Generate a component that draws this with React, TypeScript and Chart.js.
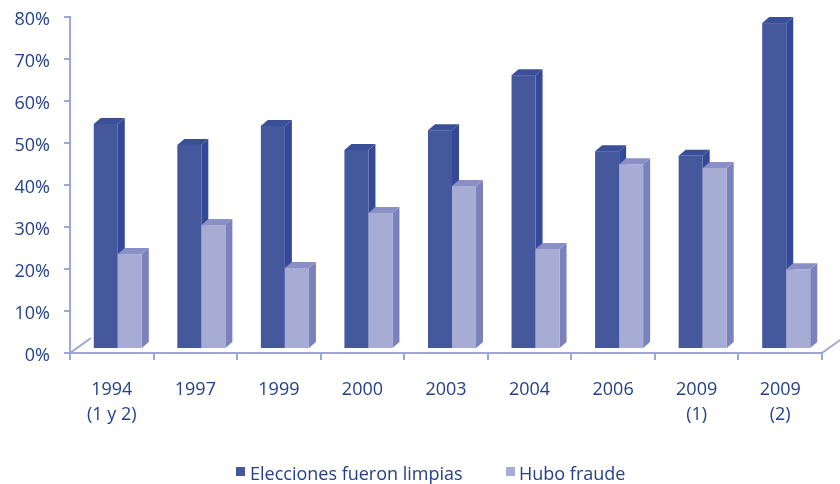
import React, { useEffect, useRef } from 'react';
import { Chart, registerables } from 'chart.js';

Chart.register(...registerables);

const categories: string[][] = [
  ['1994', '(1 y 2)'],
  ['1997'],
  ['1999'],
  ['2000'],
  ['2003'],
  ['2004'],
  ['2006'],
  ['2009', '(1)'],
  ['2009', '(2)'],
];
const seriesNames = ['Elecciones fueron limpias', 'Hubo fraude'];
const limpias = [53.6, 48.6, 53.1, 47.4, 52.1, 65.2, 47.1, 46.0, 77.6];
const fraude = [22.6, 29.5, 19.3, 32.4, 38.8, 23.8, 44.0, 43.1, 19.0];
const yTickValues = [0, 10, 20, 30, 40, 50, 60, 70, 80];

const FONT = "'Open Sans', 'Noto Sans', sans-serif";
const TEXT = '#24408C';
const AXIS = '#A0A6D4';
const FRONT = ['#45589C', '#A7ACD4'];
const SIDE = ['#34489A', '#7B81BC'];
const TOP = ['#3B4F99', '#8A90C7'];

const SHIFT_X = 6;
const SHIFT_Y = -4;
const DX = 7;
const DY = -6;

const bars3d = {
  id: 'bars3d',
  beforeDatasetsDraw(chart: any) {
    const ctx = chart.ctx;
    const { left, right, bottom } = chart.chartArea;
    ctx.save();
    ctx.strokeStyle = AXIS;
    ctx.lineWidth = 2;
    ctx.beginPath();
    ctx.moveTo(left, bottom);
    ctx.lineTo(left + 21, bottom - 15);
    ctx.moveTo(right, bottom);
    ctx.lineTo(right + 21, bottom - 15);
    ctx.stroke();

    const n = chart.data.labels.length;
    for (let i = 0; i < n; i++) {
      chart.data.datasets.forEach((_ds: any, di: number) => {
        const el = chart.getDatasetMeta(di).data[i];
        if (!el) return;
        const { x, y, base, width } = el.getProps(['x', 'y', 'base', 'width'], true);
        const x0 = x - width / 2 + SHIFT_X;
        const x1 = x + width / 2 + SHIFT_X;
        const yt = y + SHIFT_Y;
        const yb = base + SHIFT_Y;
        ctx.fillStyle = SIDE[di];
        ctx.beginPath();
        ctx.moveTo(x1, yt);
        ctx.lineTo(x1 + DX, yt + DY);
        ctx.lineTo(x1 + DX, yb + DY);
        ctx.lineTo(x1, yb);
        ctx.closePath();
        ctx.fill();
        ctx.fillStyle = TOP[di];
        ctx.beginPath();
        ctx.moveTo(x0, yt);
        ctx.lineTo(x0 + DX, yt + DY);
        ctx.lineTo(x1 + DX, yt + DY);
        ctx.lineTo(x1, yt);
        ctx.closePath();
        ctx.fill();
        ctx.fillStyle = FRONT[di];
        ctx.fillRect(x0, yt, x1 - x0, yb - yt);
      });
    }
    ctx.restore();
    return false;
  },
};

export default function App() {
  const ref = useRef<HTMLCanvasElement | null>(null);

  useEffect(() => {
    if (!ref.current) return;
    const chart = new Chart(ref.current, {
      type: 'bar',
      data: {
        labels: categories,
        datasets: [
          { label: seriesNames[0], data: limpias, backgroundColor: FRONT[0] },
          { label: seriesNames[1], data: fraude, backgroundColor: FRONT[1] },
        ],
      },
      options: {
        animation: false,
        responsive: true,
        maintainAspectRatio: false,
        datasets: { bar: { categoryPercentage: 0.575, barPercentage: 1 } },
        layout: { padding: { top: 17, right: 18, left: 0, bottom: 0 } },
        plugins: { legend: { display: false }, tooltip: { enabled: false } },
        scales: {
          x: {
            grid: { display: true, drawOnChartArea: false, drawTicks: true, tickLength: 7, color: AXIS, lineWidth: 2, offset: true },
            border: { display: true, color: AXIS, width: 2 },
            ticks: { color: TEXT, font: { family: FONT, size: 18, lineHeight: 1.35 }, padding: 18, maxRotation: 0, autoSkip: false },
            afterFit: (s: any) => { s.height = 131; },
          },
          y: {
            min: 0,
            max: 80,
            afterBuildTicks: (s: any) => { s.ticks = yTickValues.map((v) => ({ value: v })); },
            grid: { display: true, drawOnChartArea: false, drawTicks: true, tickLength: 6, color: AXIS, lineWidth: 2 },
            border: { display: true, color: AXIS, width: 2 },
            ticks: { color: TEXT, font: { family: FONT, size: 18 }, padding: 14, labelOffset: 3, callback: (v: any) => `${v}%` },
            afterFit: (s: any) => { s.width = 70; s.paddingTop = 11; s.paddingBottom = 11; },
          },
        },
      },
      plugins: [bars3d],
    });
    return () => chart.destroy();
  }, []);

  const legendText: React.CSSProperties = {
    position: 'absolute', fontFamily: FONT, fontSize: 18, lineHeight: '24px', color: TEXT, whiteSpace: 'nowrap', top: 461,
  };
  const sq = (left: number, color: string): React.CSSProperties => ({
    position: 'absolute', left, top: 467, width: 9, height: 9, background: color,
  });

  return (
    <div style={{ position: 'absolute', left: 0, top: 0, width: 840, height: 484, background: '#fff' }}>
      <canvas ref={ref} />
      <div style={sq(236, FRONT[0])} />
      <div style={{ ...legendText, left: 250 }}>{seriesNames[0]}</div>
      <div style={sq(506, FRONT[1])} />
      <div style={{ ...legendText, left: 519 }}>{seriesNames[1]}</div>
    </div>
  );
}
